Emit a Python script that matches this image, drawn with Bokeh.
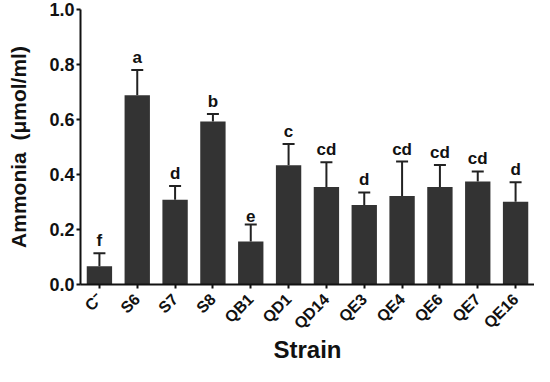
from bokeh.plotting import figure
from bokeh.models import ColumnDataSource, FactorRange, Range1d, FixedTicker, PrintfTickFormatter, Whisker, TeeHead
from bokeh.core.properties import value
from bokeh.embed import file_html
from bokeh.resources import INLINE
import math

strains = ["C⁻", "S6", "S7", "S8", "QB1", "QD1", "QD14", "QE3", "QE4", "QE6", "QE7", "QE16"]
ammonia = [0.066, 0.688, 0.308, 0.593, 0.156, 0.434, 0.355, 0.289, 0.322, 0.355, 0.375, 0.301]
sd_upper = [0.048, 0.092, 0.050, 0.027, 0.062, 0.077, 0.090, 0.046, 0.125, 0.080, 0.036, 0.071]
groups = ["f", "a", "d", "b", "e", "c", "cd", "d", "cd", "cd", "cd", "d"]
y_ticks = [0.0, 0.2, 0.4, 0.6, 0.8, 1.0]

FONT = "Liberation Sans"

src = ColumnDataSource(dict(
    x=strains,
    top=ammonia,
    upper=[v + e for v, e in zip(ammonia, sd_upper)],
    grp=groups,
))

p = figure(x_range=FactorRange(factors=strains), y_range=Range1d(0, 1.0),
           width=534, height=366, output_backend="svg", toolbar_location=None,
           min_border_left=80, min_border_right=0, min_border_top=9, min_border_bottom=20)
p.outline_line_color = None
p.xgrid.grid_line_color = None
p.ygrid.grid_line_color = None
p.background_fill_color = "white"

p.vbar(x="x", top="top", width=0.67, source=src, fill_color="#333333", line_color=None)

w = Whisker(source=src, base="x", upper="upper", lower="top",
            line_color="#222222", line_width=2,
            upper_head=TeeHead(size=12, line_width=2, line_color="#222222"),
            lower_head=None)
p.add_layout(w)

p.text(x="x", y="upper", text="grp", source=src, y_offset=-3,
       text_align="center", text_baseline="bottom",
       text_font=value(FONT), text_font_style="bold", text_font_size="17px",
       text_color="#111111")

# axes styling
for ax in (p.xaxis[0], p.yaxis[0]):
    ax.axis_line_width = 2
    ax.axis_line_color = "#111111"
    ax.major_tick_line_width = 2
    ax.major_tick_line_color = "#111111"
    ax.major_tick_in = 0
    ax.major_tick_out = 4
    ax.minor_tick_line_color = None
    ax.major_label_text_font = FONT
    ax.major_label_text_font_style = "bold"
    ax.major_label_text_color = "#111111"
    ax.axis_label_text_font = FONT
    ax.axis_label_text_font_style = "bold"
    ax.axis_label_text_color = "#111111"

p.yaxis.ticker = FixedTicker(ticks=y_ticks)
p.yaxis.formatter = PrintfTickFormatter(format="%.1f")
p.yaxis.major_label_text_font_size = "18px"
p.yaxis.major_label_standoff = 2
p.yaxis.axis_label = "Ammonia\u00a0\u00a0(μmol/ml)"
p.yaxis.axis_label_text_font_size = "21px"
p.yaxis.axis_label_standoff = 16

p.xaxis.major_label_orientation = math.pi / 4
p.xaxis.major_label_text_font_size = "16px"
p.xaxis.major_label_standoff = 8
p.xaxis.axis_label = "Strain"
p.xaxis.axis_label_text_font_size = "24px"
p.xaxis.axis_label_standoff = -5

open("out.html", "w").write(file_html(p, INLINE))
